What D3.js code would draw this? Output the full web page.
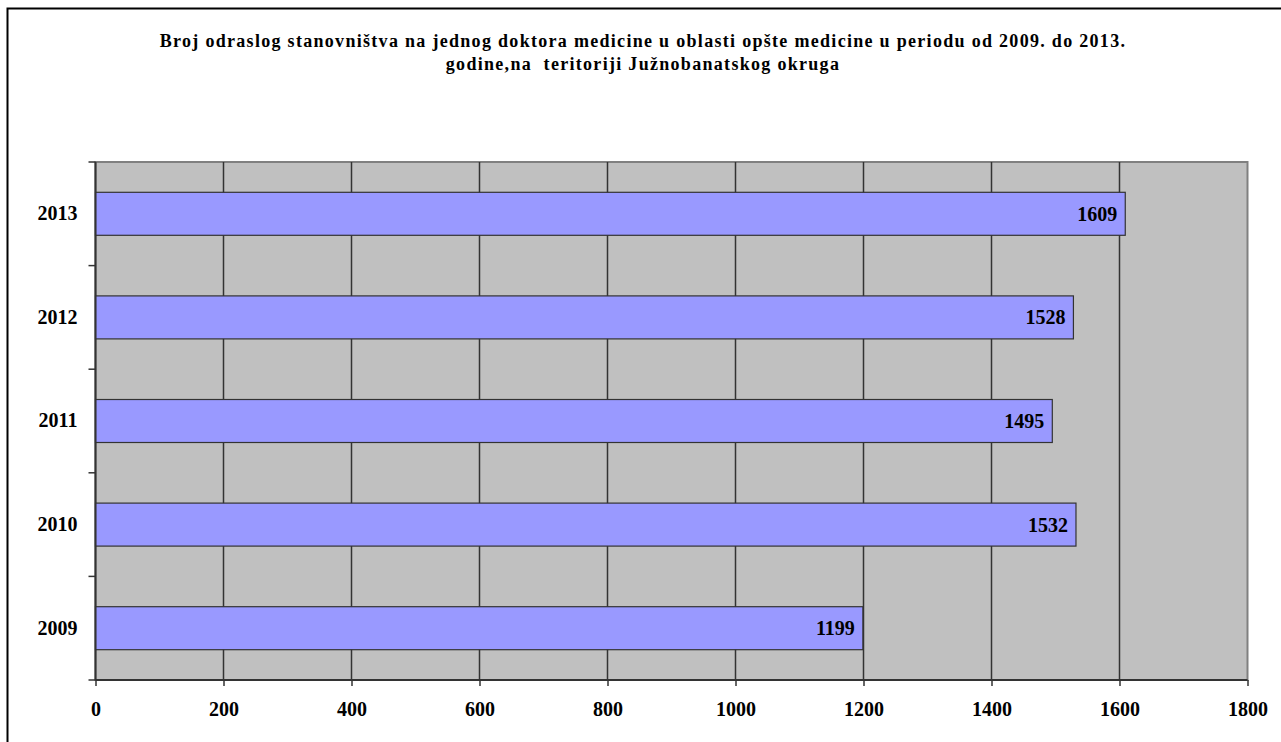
<!DOCTYPE html>
<html><head><meta charset="utf-8">
<script src="https://cdn.jsdelivr.net/npm/d3@7"></script>
<style>body{margin:0;background:#fff}svg{display:block}</style>
</head><body>
<script>
const years = ["2009","2010","2011","2012","2013"];
const values = [1199,1532,1495,1528,1609];
const xTicks = [0,200,400,600,800,1000,1200,1400,1600,1800];
const titleLines = ["Broj odraslog stanovništva na jednog doktora medicine u oblasti opšte medicine u periodu od 2009. do 2013.","godine,na  teritoriji Južnobanatskog okruga"];

const W=1281,H=742;
const svg=d3.select("body").append("svg").attr("width",W).attr("height",H);
const font="'Liberation Serif','Times New Roman',serif";
svg.append("rect").attr("x",7.5).attr("y",8.5).attr("width",W).attr("height",H).attr("fill","#fff").attr("stroke","#000").attr("stroke-width",2);

const L=95.5,R=1247.5,T=162,B=680;
const x=d3.scaleLinear().domain([0,1800]).range([L,R]);
const y=d3.scaleBand().domain(years.slice().reverse()).range([T,B]).paddingInner(0.585).paddingOuter(0.2925);
const yb=d3.scaleBand().domain(years.slice().reverse()).range([T,B]);

svg.append("rect").attr("x",L).attr("y",T).attr("width",R-L).attr("height",B-T).attr("fill","#C0C0C0").attr("stroke","#808080").attr("stroke-width",2);

svg.append("g").selectAll("line").data(xTicks.slice(1,-1)).join("line")
 .attr("x1",d=>x(d)).attr("x2",d=>x(d)).attr("y1",T).attr("y2",B)
 .attr("stroke","#333").attr("stroke-width",1.5);

svg.append("g").selectAll("rect").data(years).join("rect")
 .attr("x",x(0)).attr("y",(d)=>y(d)).attr("height",y.bandwidth())
 .attr("width",(d,i)=>x(values[i])-x(0))
 .attr("fill","#9999FF").attr("stroke","#333").attr("stroke-width",1.2);

svg.append("g").selectAll("text").data(years).join("text")
 .attr("x",(d,i)=>x(values[i])-8).attr("y",d=>y(d)+y.bandwidth()/2)
 .attr("dy","0.35em").attr("text-anchor","end")
 .attr("font-family",font).attr("font-weight","bold").attr("font-size",20)
 .text((d,i)=>values[i]);

// x axis
const xa=svg.append("g").attr("transform",`translate(0,${B})`)
 .call(d3.axisBottom(x).tickValues(xTicks).tickSize(6).tickPadding(16).tickFormat(d3.format("d")));
xa.select(".domain").attr("stroke","#333").attr("stroke-width",2).attr("d",`M${L},0H${R}`);
xa.selectAll(".tick line").attr("stroke","#333").attr("stroke-width",1.5);
xa.selectAll("text").attr("font-family",font).attr("font-weight","bold").attr("font-size",20).attr("fill","#000");

// y axis
const ya=svg.append("g").attr("transform",`translate(${L},0)`)
 .call(d3.axisLeft(yb).tickSize(0).tickPadding(18));
ya.select(".domain").attr("stroke","#333").attr("stroke-width",2).attr("d",`M0,${T}V${B}`);
ya.selectAll("text").attr("font-family",font).attr("font-weight","bold").attr("font-size",20).attr("fill","#000");
const bounds=[...years.map(d=>yb(d)),B];
svg.append("g").selectAll("line").data(bounds).join("line")
 .attr("x1",L-7).attr("x2",L).attr("y1",d=>d).attr("y2",d=>d)
 .attr("stroke","#333").attr("stroke-width",1.5);

svg.append("g").selectAll("text").data(titleLines).join("text")
 .attr("x",643).attr("y",(d,i)=>47+i*23).attr("text-anchor","middle")
 .attr("font-family",font).attr("font-weight","bold").attr("font-size",18)
 .attr("letter-spacing",1.3).style("white-space","pre")
 .text(d=>d);
</script>
</body></html>
